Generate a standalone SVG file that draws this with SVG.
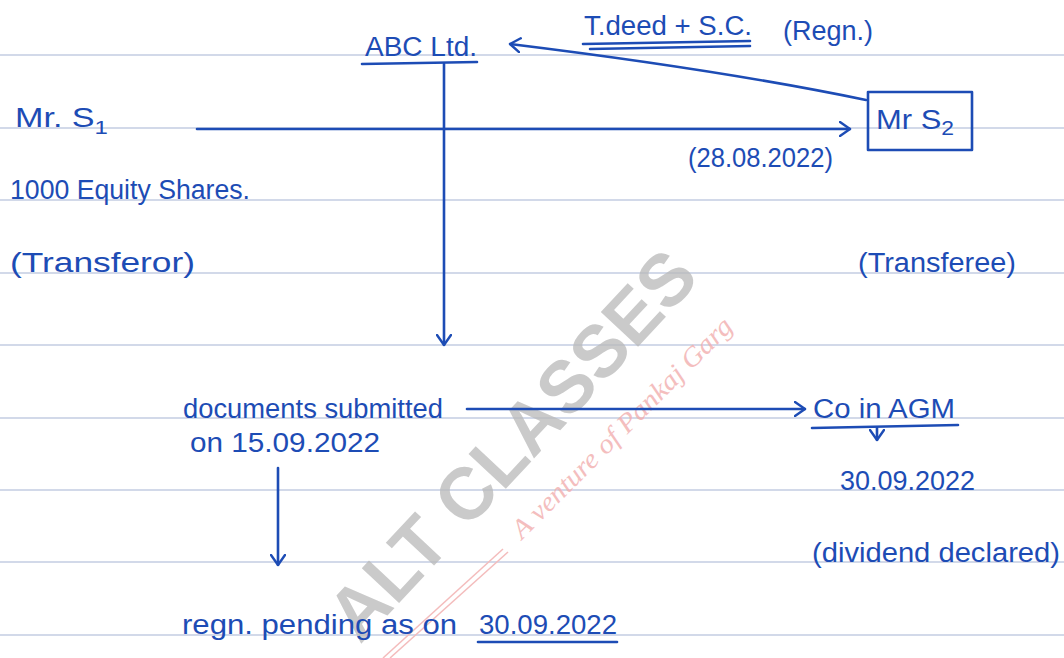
<svg xmlns="http://www.w3.org/2000/svg" width="1064" height="658" viewBox="0 0 1064 658">
<defs>
<style>
.rule{stroke:#c3cde2;stroke-width:1.5}
.ink{stroke:#1d4cb5;stroke-width:2.6;fill:none;stroke-linecap:round;stroke-linejoin:round}
.t{fill:#1d4cb5;font-family:"Liberation Sans",sans-serif;font-size:27px}
.wm{fill:#b9b9b9;opacity:0.75;font-family:"Liberation Sans",sans-serif;font-weight:bold;font-size:74px}
.wp{fill:#f2aeae;opacity:0.8;font-family:"Liberation Serif",serif;font-style:italic;font-size:27px}
</style>
<marker id="ah" viewBox="0 0 12 16" refX="11" refY="8" markerWidth="12" markerHeight="16" markerUnits="userSpaceOnUse" orient="auto">
<path d="M1,1 L11,8 L1,15" fill="none" stroke="#1d4cb5" stroke-width="2.4" stroke-linecap="round" stroke-linejoin="round"/>
</marker>
</defs>
<rect width="1064" height="658" fill="#ffffff"/>
<g id="rules">
<line class="rule" x1="0" y1="55" x2="1064" y2="55"/>
<line class="rule" x1="0" y1="128" x2="1064" y2="128"/>
<line class="rule" x1="0" y1="200" x2="1064" y2="200"/>
<line class="rule" x1="0" y1="273" x2="1064" y2="273"/>
<line class="rule" x1="0" y1="345" x2="1064" y2="345"/>
<line class="rule" x1="0" y1="418" x2="1064" y2="418"/>
<line class="rule" x1="0" y1="490" x2="1064" y2="490"/>
<line class="rule" x1="0" y1="562" x2="1064" y2="562"/>
<line class="rule" x1="0" y1="635" x2="1064" y2="635"/>
</g>
<g id="watermark">
<text class="wm" transform="translate(360,645) rotate(-47)" textLength="500" lengthAdjust="spacingAndGlyphs">ALT CLASSES</text>
<text class="wp" transform="translate(522,540) rotate(-45)" textLength="300" lengthAdjust="spacingAndGlyphs">A venture of Pankaj Garg</text>
<line x1="383" y1="658" x2="503" y2="549" stroke="#f4bcbc" stroke-width="1.5"/>
<line x1="390" y1="658" x2="508" y2="552" stroke="#f4bcbc" stroke-width="1.5"/>
</g>
<g id="connectors">
<line class="ink" x1="444" y1="64" x2="444" y2="345" marker-end="url(#ah)"/>
<line class="ink" x1="197" y1="129" x2="850" y2="129" marker-end="url(#ah)"/>
<path class="ink" d="M866,100 C760,78 640,60 510,44" marker-end="url(#ah)"/>
<line class="ink" x1="467" y1="409" x2="805" y2="409" marker-end="url(#ah)"/>
<line class="ink" x1="278" y1="468" x2="278" y2="565" marker-end="url(#ah)"/>
<line class="ink" x1="877" y1="428" x2="877" y2="440" marker-end="url(#ah)"/>
</g>
<g id="abc">
<text class="t" x="365" y="56" textLength="112" lengthAdjust="spacingAndGlyphs">ABC Ltd.</text>
<line class="ink" x1="362" y1="64" x2="477" y2="62"/>
</g>
<g id="tdeed">
<text class="t" x="584" y="35" textLength="168" lengthAdjust="spacingAndGlyphs">T.deed + S.C.</text>
<line class="ink" x1="583" y1="44" x2="750" y2="41"/>
<line class="ink" x1="590" y1="49" x2="750" y2="46"/>
<text class="t" x="783" y="40" textLength="90" lengthAdjust="spacingAndGlyphs">(Regn.)</text>
</g>
<g id="s1">
<text class="t" x="15" y="127" textLength="93" lengthAdjust="spacingAndGlyphs">Mr. S<tspan dy="7" font-size="19">1</tspan></text>
<text class="t" x="10" y="199" textLength="240" lengthAdjust="spacingAndGlyphs">1000 Equity Shares.</text>
<text class="t" x="10" y="272" textLength="185" lengthAdjust="spacingAndGlyphs">(Transferor)</text>
</g>
<g id="s2">
<rect class="ink" x="868" y="92" width="104" height="58"/>
<text class="t" x="876" y="129" textLength="78" lengthAdjust="spacingAndGlyphs">Mr S<tspan dy="6" font-size="20">2</tspan></text>
<text class="t" x="688" y="167" textLength="145" lengthAdjust="spacingAndGlyphs">(28.08.2022)</text>
<text class="t" x="858" y="272" textLength="158" lengthAdjust="spacingAndGlyphs">(Transferee)</text>
</g>
<g id="docs">
<text class="t" x="183" y="418" textLength="260" lengthAdjust="spacingAndGlyphs">documents submitted</text>
<text class="t" x="190" y="452" textLength="190" lengthAdjust="spacingAndGlyphs">on 15.09.2022</text>
</g>
<g id="agm">
<text class="t" x="813" y="418" textLength="142" lengthAdjust="spacingAndGlyphs">Co in AGM</text>
<line class="ink" x1="812" y1="428" x2="958" y2="425"/>
<text class="t" x="840" y="490" textLength="135" lengthAdjust="spacingAndGlyphs">30.09.2022</text>
<text class="t" x="812" y="562" textLength="248" lengthAdjust="spacingAndGlyphs">(dividend declared)</text>
</g>
<g id="pending">
<text class="t" x="182" y="634" textLength="275" lengthAdjust="spacingAndGlyphs">regn. pending as on</text>
<text class="t" x="479" y="634" textLength="138" lengthAdjust="spacingAndGlyphs">30.09.2022</text>
<line class="ink" x1="478" y1="642" x2="617" y2="642"/>
</g>
</svg>
